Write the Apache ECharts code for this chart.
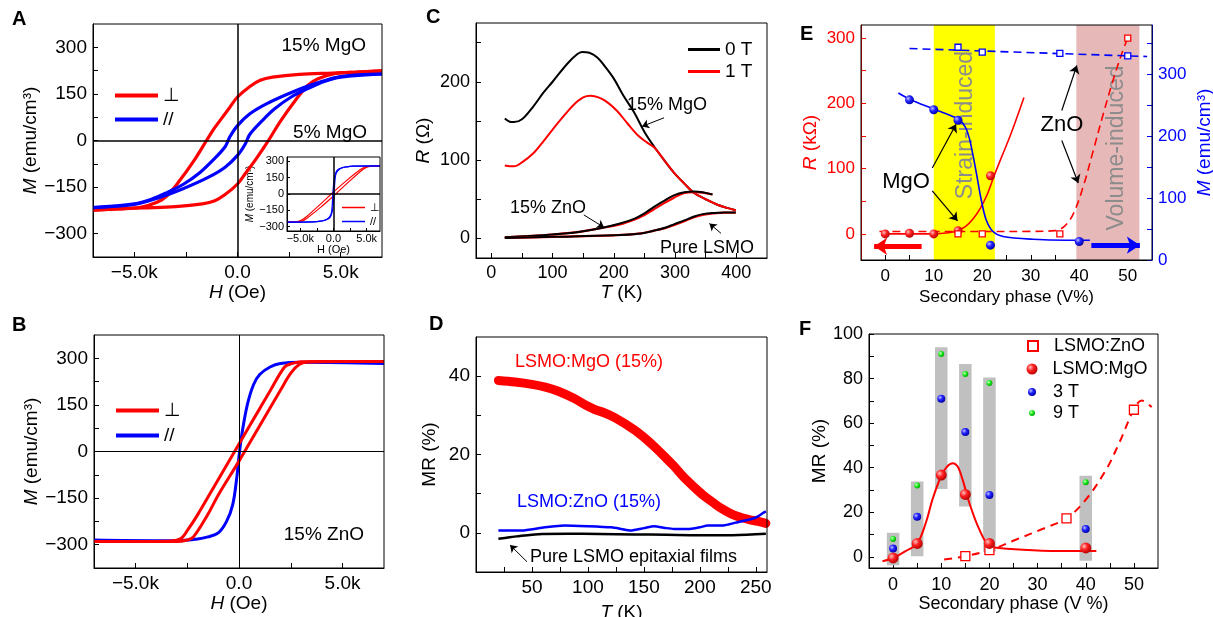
<!DOCTYPE html>
<html>
<head>
<meta charset="utf-8">
<script src="https://cdn.jsdelivr.net/npm/echarts@6/dist/echarts.min.js"></script>
<style>
  html, body { margin: 0; background: #fff; }
  #chart { width: 1213px; height: 617px; }
</style>
</head>
<body>
<div id="chart"></div>
<script>
const FONT = 'Liberation Sans, Arial, DejaVu Sans, sans-serif'

// ---------- A: 15% MgO, M-H loops [H (Oe), M (emu/cm3)]
const aPerpDown = [[7000,224],[5800,220],[4600,217],[3000,213],[1700,204],[1100,194],[600,174],[0,140],[-370,107],[-850,64],[-1200,32],[-1500,0],[-2100,-64],[-2800,-129],[-3400,-177],[-3900,-199],[-4700,-215],[-5800,-220],[-7000,-224]]
const aPerpUp = [[-7000,-224],[-5800,-220],[-4600,-217],[-3000,-213],[-1700,-204],[-1100,-194],[-600,-174],[0,-140],[370,-107],[850,-64],[1200,-30],[1500,0],[2100,64],[2800,129],[3400,177],[3900,199],[4700,215],[5800,220],[7000,224]]
const aParDown = [[7000,214],[5000,206],[3800,184],[2700,157],[1400,118],[600,86],[0,48],[-370,12],[-600,-20],[-1200,-64],[-1800,-102],[-2600,-140],[-3400,-167],[-4200,-190],[-5000,-204],[-7000,-216]]
const aParUp = [[-7000,-216],[-5000,-206],[-3800,-184],[-2700,-157],[-1400,-118],[-600,-86],[0,-48],[370,-12],[600,20],[1200,64],[1800,102],[2600,140],[3400,167],[4200,190],[5000,204],[7000,214]]
// inset: 5% MgO
const inPerpDown = [[7000,258],[5500,256],[4800,250],[4000,222],[2000,125],[0,18],[-2000,-95],[-4000,-205],[-4800,-240],[-5500,-254],[-7000,-258]]
const inPerpUp = [[-7000,-258],[-5500,-256],[-4800,-250],[-4000,-222],[-2000,-125],[0,-18],[2000,95],[4000,205],[4800,240],[5500,254],[7000,258]]
const inParDown = [[7000,258],[3000,256],[2000,250],[1200,240],[500,215],[150,150],[0,80],[-100,0],[-200,-110],[-400,-190],[-1000,-232],[-2000,-250],[-3000,-256],[-7000,-258]]
const inParUp = [[-7000,-258],[-3000,-256],[-2000,-250],[-1200,-240],[-500,-215],[-150,-150],[0,-80],[100,0],[200,110],[400,190],[1000,232],[2000,250],[3000,256],[7000,258]]

// ---------- B: 15% ZnO
const bPerpDown = [[7000,290],[4000,290],[3000,289],[2500,282],[2200,272],[1500,195],[1000,138],[0,24],[-1000,-90],[-2000,-204],[-2500,-255],[-2800,-280],[-3300,-288],[-5000,-290],[-7000,-290]]
const bPerpUp = [[-7000,-290],[-5000,-290],[-3000,-290],[-2500,-285],[-2200,-275],[-1500,-202],[-1000,-140],[0,-31],[1000,83],[2000,197],[2500,252],[2900,280],[3300,288],[5000,290],[7000,290]]
const bPar = [[-7000,-285],[-4000,-287],[-3000,-287],[-2000,-282],[-1500,-275],[-1000,-262],[-600,-225],[-300,-170],[-100,-80],[0,-15],[150,60],[400,150],[700,215],[1000,248],[1500,272],[2000,283],[3000,287],[7000,283]]

// ---------- C: R-T [T (K), R (ohm)]
const cMgO0T = [[22,153],[30,149],[37,148.5],[50,152],[69,169],[85,186],[100,200],[124,223],[140,235],[148,238],[160,237],[173,231],[185,220],[200,204],[215,183],[233,161],[250,136],[266,117],[282,100],[298,84],[315,70],[331,58],[350,50],[369,43],[385,39],[399,36]]
const cMgO1T = [[22,93],[30,92],[37,92],[50,97],[69,109],[85,124],[100,139],[120,158],[135,171],[150,180],[162,182],[175,180],[189,174],[205,163],[222,147],[240,131],[255,122],[266,116],[282,100],[298,84],[315,70],[331,58],[350,50],[369,43],[385,39],[399,36]]
const cZnO0T = [[22,1.5],[60,3],[100,5],[140,8],[178,13],[210,19],[233,25],[250,32],[265,40],[282,48],[298,55],[315,59],[331,60],[345,59],[361,56]]
const cZnO1T = [[22,1.5],[60,3],[100,5],[140,8],[178,13],[210,18],[233,24],[250,30],[265,37],[282,45],[298,52],[315,58],[331,59],[345,58.5],[361,56]]
const cPure0T = [[22,0.5],[100,2],[200,4],[240,6],[266,10],[285,14],[298,18],[315,23],[331,28],[345,31],[364,32.5],[380,33],[399,33]]
const cPure1T = [[22,0.5],[100,2],[200,4],[240,6],[266,10],[285,13.5],[298,17],[315,22],[331,27],[345,30],[364,32],[380,33],[399,33]]

// ---------- D: MR-T [T (K), MR (%)]
const dMgO = [[20,38.9],[35,38.5],[50,37.9],[62,37.2],[73,36.2],[87,34.4],[100,32.3],[106,31.5],[115,30.6],[124,29.4],[141,26.4],[150,24.4],[159,22.1],[168,19.6],[177,17],[185,14.4],[194,11.9],[203,9.6],[212,7.7],[220,6.1],[229,4.7],[237,3.9],[244,3.4],[252,2.9],[259,2.4]]
const dZnO = [[20,0.6],[41,0.6],[59,1.3],[79,1.9],[100,1.7],[121,1.4],[130,1.0],[138,0.6],[150,1.2],[159,1.7],[170,1.2],[177,1.0],[191,1.0],[200,1.4],[207,1.9],[221,1.9],[232,2.6],[247,3.6],[252,4.2],[256,5.0],[259,5.5]]
const dPure = [[20,-1.5],[30,-1.1],[38,-0.85],[50,-0.5],[59,-0.3],[82,-0.25],[110,-0.3],[141,-0.4],[170,-0.5],[200,-0.6],[229,-0.6],[259,-0.25]]

// ---------- E: R and M vs secondary phase [V%, value]
const eMgO_R = [[0,0],[5,1],[10,0],[15,5],[21.7,89]]
const eZnO_R = [[15,0],[20,0],[36,0],[50,300]]
const eMgO_M = [[5,259],[10,243],[15,226],[21.7,24],[40,30]]
const eZnO_M = [[15,344],[20,336],[36,334],[50,330]]
const eFitMgO_R = [[0,0],[5,0],[10,0],[12,1],[14,3],[15,5],[16.5,11],[18,22],[19.5,38],[21,60],[22.5,90],[24,118],[26,155],[28.6,209]]
const eFitZnO_R = [[-1.2,3.6],[10,3.6],[20,3.6],[30,3.8],[35,5],[37,12],[38.8,31],[40.8,72],[42.9,128],[45,185],[47,236],[48.8,277],[50,300]]
const eFitMgO_M = [[2.7,270],[5,260],[10,244],[15,228],[16.5,215],[17.4,195],[18.2,165],[18.8,140],[19.8,97],[20.8,65],[22.2,46],[24.3,38],[30.5,33.5],[37.4,32],[42.2,32]]
const eFitZnO_M = [[5,342],[54,329]]
const eBands = [[10,22.6],[39.4,52.4]]

// ---------- F: MR vs secondary phase [V%, MR (%)]
const fRange = [[0,-3.8,10.8],[5,0.3,33.8],[10,30.4,94],[15,22.6,86.5],[20,2.3,80.5],[40,-1.7,36.4]]
const fMgO = [[0,-0.5],[5,6],[10,36.7],[15,28],[20,6],[40,4]]
const f3T = [[0,3.7],[5,18],[10,71],[15,56],[20,27.8],[40,12.5]]
const f9T = [[0,8],[5,32],[10,91],[15,82],[20,78],[40,33.5]]
const fZnO = [[15,0.3],[20,3],[36,17.3],[50,66]]
const fFitMgO = [[-2.2,-2],[0,-0.5],[2.6,2.6],[5,6],[6.8,15.3],[8.2,25.9],[10,36.4],[11.2,40.5],[12.4,42],[13.4,40.5],[14.4,34.9],[15.8,24.4],[17.9,12.3],[20,4.8],[22,4],[29,3],[36,2.6],[42.2,2.6]]
const fFitZnO = [[10.6,-1.2],[15,0.3],[20,3],[25.6,7.8],[31.1,12.6],[36,17.3],[40.1,25.9],[44.3,39.4],[47,51.4],[50,66.2],[51.6,70.2],[53.7,67.2]]

// ---------- tick values
const hLabels = [-5000, 0, 5000], hTicks = [-5000, -2500, 0, 2500, 5000]
const mLabels = [-300, -150, 0, 150, 300], mTicks = [-300, -225, -150, -75, 0, 75, 150, 225, 300]
const cTLabels = [0, 100, 200, 300, 400], cTTicks = [0, 50, 100, 150, 200, 250, 300, 350, 400]
const cRLabels = [0, 100, 200], cRTicks = [0, 50, 100, 150, 200, 250]
const dTLabels = [50, 100, 150, 200, 250], dTTicks = [25, 50, 75, 100, 125, 150, 175, 200, 225, 250]
const dMRLabels = [0, 20, 40], dMRTicks = [0, 10, 20, 30, 40]
const vLabels = [0, 10, 20, 30, 40, 50], vTicks = [0, 5, 10, 15, 20, 25, 30, 35, 40, 45, 50]
const eRLabels = [0, 100, 200, 300], eRTicks = [0, 50, 100, 150, 200, 250, 300]
const eMLabels = [0, 100, 200, 300], eMTicks = [0, 50, 100, 150, 200, 250, 300, 350]
const fMRLabels = [0, 20, 40, 60, 80, 100], fMRTicks = [0, 10, 20, 30, 40, 50, 60, 70, 80, 90, 100]

// annotation arrows, data coords [from, to]
const cArrows = [[[282,154],[246,143]], [[151,30],[184,14]], [[375,6.4],[356,19]]]
const dArrows = [[[45.6,-7.4],[30.4,-3.1]]]
const eBlackArrows = [[[9.7,101],[14.6,168]], [[9.7,66],[14.9,20]], [[36.4,189],[39.5,258]], [[36.4,143],[39.8,78]]]
const eRedArrow = [[[7.5,-19],[-2.3,-19]]]
const eBlueArrow = [[[42.5,24],[52.5,24]]]

const RED = '#ff0000', BLUE = '#0000ff'
const minus = v => String(v).replace('-', '\u2212')
const kFmt = v => v === 0 ? '0.0' : minus((v / 1000).toFixed(1)) + 'k'

function axis(grid, min, max, labels, ticks, o) {
  o = o || {}
  const color = o.color || '#000'
  const ns = o.nameSize || 19
  return {
    type: 'value', gridIndex: grid, min, max, position: o.position,
    name: o.name, nameLocation: 'middle', nameGap: o.nameGap,
    nameTextStyle: { fontSize: ns, color, fontFamily: FONT,
      rich: { i: { fontStyle: 'italic', fontSize: ns, color, fontFamily: FONT } } },
    axisLine: { show: true, onZero: false, lineStyle: { color, width: 1 } },
    axisTick: { show: true, inside: true, length: o.tickLen || 5, customValues: ticks, lineStyle: { color } },
    axisLabel: { customValues: labels, fontSize: o.fontSize || 18, color, fontFamily: FONT,
      margin: o.margin || 6, formatter: o.fmt || (v => minus(v)) },
    splitLine: { show: false }
  }
}

function line(name, data, xi, yi, color, width, o) {
  o = o || {}
  return {
    type: 'line', name, data, xAxisIndex: xi, yAxisIndex: yi,
    symbol: 'none', showSymbol: false, smooth: o.smooth === undefined ? 0.35 : o.smooth,
    lineStyle: { color, width, type: o.dash || 'solid', cap: o.cap || 'butt' },
    itemStyle: { color }, z: 3, markLine: o.markLine
  }
}

const ball = (hi, mid, lo) => ({ type: 'radial', x: 0.35, y: 0.35, r: 0.7,
  colorStops: [{ offset: 0, color: hi }, { offset: 0.45, color: mid }, { offset: 1, color: lo }] })

function dots(name, data, xi, yi, size, fill, o) {
  o = o || {}
  return {
    type: 'scatter', name, data, xAxisIndex: xi, yAxisIndex: yi,
    symbol: o.symbol || 'circle', symbolSize: size, z: 4,
    itemStyle: { color: fill, borderColor: o.border || 'transparent', borderWidth: o.border ? 1.3 : 0, opacity: 1 }
  }
}

function zeroLines(width) {
  return { silent: true, symbol: 'none', label: { show: false },
    lineStyle: { color: '#000', width, type: 'solid' }, data: [{ yAxis: 0 }, { xAxis: 0 }] }
}

function arrows(list, color, width, size) {
  return { silent: true, symbol: ['none', 'arrow'], symbolSize: size, label: { show: false },
    lineStyle: { color, width, type: 'solid' },
    data: list.map(a => [{ coord: a[0] }, { coord: a[1] }]) }
}

function txt(str, x, y, size, o) {
  o = o || {}
  return { type: 'text', x, y, z: o.z || 10, rotation: o.rot || 0,
    style: { text: str, fill: o.color || '#000', fontSize: size, fontFamily: FONT,
      fontWeight: o.weight || 'normal', align: o.align || 'left', verticalAlign: 'middle' } }
}

// line legends drawn as plain bars; symbol legends keep their marker
function legend(left, top, names, o) {
  return { left, top, orient: 'vertical', padding: 0, selectedMode: false,
    icon: o.icon, itemWidth: o.w, itemHeight: o.h, itemGap: o.gap || 0, data: names,
    textStyle: { fontSize: o.fs, color: '#000', fontFamily: FONT, padding: [0, 0, 0, o.pad || 0] } }
}

const chart = echarts.init(document.getElementById('chart'))

const grids = [
  { left: 93, top: 24, width: 289, height: 233 },   // A
  { left: 287, top: 157, width: 93, height: 74 },   // A inset
  { left: 94, top: 335, width: 290, height: 233 },  // B
  { left: 476, top: 23, width: 291, height: 235 },  // C
  { left: 476, top: 337, width: 291, height: 235 }, // D
  { left: 861, top: 25, width: 291, height: 235 },  // E
  { left: 869, top: 334, width: 289, height: 234 }  // F
].map(g => Object.assign(g, { show: true, borderColor: '#000', borderWidth: 1, backgroundColor: 'transparent',
  z: 4, containLabel: false, outerBoundsMode: 'none' }))

const option = {
  animation: false,
  backgroundColor: '#fff',
  textStyle: { fontFamily: FONT },
  grid: grids,
  xAxis: [
    axis(0, -7000, 7000, hLabels, hTicks, { name: '{i|H} (Oe)', nameGap: 18, fontSize: 19, fmt: kFmt }),
    axis(1, -7000, 7000, hLabels, hTicks, { name: 'H (Oe)', nameGap: 12, nameSize: 11, fontSize: 11, margin: 2, tickLen: 3, fmt: kFmt }),
    axis(2, -7000, 7000, hLabels, hTicks, { name: '{i|H} (Oe)', nameGap: 25, fontSize: 19, fmt: kFmt }),
    axis(3, -25, 450, cTLabels, cTTicks, { name: '{i|T} (K)', nameGap: 25 }),
    axis(4, 0, 260, dTLabels, dTTicks, { name: '{i|T} (K)', nameGap: 31, fontSize: 19 }),
    axis(5, -5, 55, vLabels, vTicks, { name: 'Secondary phase (V%)', nameGap: 29, nameSize: 17, fontSize: 17, margin: 8 }),
    axis(6, -5, 55, vLabels, vTicks, { name: 'Secondary phase (V %)', nameGap: 26, nameSize: 18, margin: 8 })
  ],
  yAxis: [
    axis(0, -375, 375, mLabels, mTicks, { name: '{i|M} (emu/cm³)', nameGap: 52, fontSize: 19 }),
    axis(1, -340, 340, mLabels, mLabels, { name: '{i|M} (emu/cm³)', nameGap: 25, nameSize: 10, fontSize: 11, margin: 3, tickLen: 3 }),
    axis(2, -375, 375, mLabels, mTicks, { name: '{i|M} (emu/cm³)', nameGap: 53, fontSize: 19 }),
    axis(3, -25, 275, cRLabels, cRTicks, { name: '{i|R} (Ω)', nameGap: 43 }),
    axis(4, -10, 50, dMRLabels, dMRTicks, { name: 'MR (%)', nameGap: 37, fontSize: 19 }),
    axis(5, -40, 320, eRLabels, eRTicks, { color: RED, name: '{i|R} (kΩ)', nameGap: 41, fontSize: 17 }),
    axis(5, 0, 380, eMLabels, eMTicks, { color: BLUE, position: 'right', name: '{i|M} (emu/cm³)', nameGap: 43, fontSize: 17 }),
    axis(6, -5, 100, fMRLabels, fMRTicks, { name: 'MR (%)', nameGap: 36 })
  ],
  legend: [
    legend(115, 86, ['⊥', '//'], { icon: 'rect', w: 43, h: 4, gap: 5, fs: 19 }),
    legend(116, 401, ['⊥', '//'], { icon: 'rect', w: 43, h: 4, gap: 6, fs: 19 }),
    legend(342, 202, ['⊥ ', '// '], { icon: 'rect', w: 23, h: 1.5, gap: 3, fs: 11 }),
    legend(688, 40, ['0 T', '1 T'], { icon: 'rect', w: 32, h: 3, gap: 3, fs: 19 }),
    legend(1027, 337, ['LSMO:ZnO'], { w: 10, h: 10, fs: 18, pad: 11 }),
    legend(1026.5, 360, ['LSMO:MgO'], { w: 11, h: 11, fs: 18, pad: 10 }),
    legend(1028, 383, ['3 T'], { w: 8, h: 8, fs: 18, pad: 12 }),
    legend(1029, 404, ['9 T'], { w: 6, h: 6, fs: 18, pad: 13 })
  ],
  graphic: [
    txt('A', 12, 19, 20, { weight: 'bold' }),
    txt('B', 12, 325, 20, { weight: 'bold' }),
    txt('C', 426, 17, 20, { weight: 'bold' }),
    txt('D', 429, 324, 20, { weight: 'bold' }),
    txt('E', 800, 34, 20, { weight: 'bold' }),
    txt('F', 799, 329, 20, { weight: 'bold' }),
    txt('15% MgO', 366, 46, 19, { align: 'right' }),
    txt('5% MgO', 367, 133, 19, { align: 'right' }),
    txt('15% ZnO', 364, 535, 19, { align: 'right' }),
    txt('15% MgO', 627, 105, 18),
    txt('15% ZnO', 510, 208, 18),
    txt('Pure LSMO', 660, 248, 18),
    txt('LSMO:MgO (15%)', 515, 362, 18, { color: RED }),
    txt('LSMO:ZnO (15%)', 517, 502, 18, { color: BLUE }),
    txt('Pure LSMO epitaxial films', 530, 557, 18),
    txt('MgO', 906, 182, 22, { align: 'center' }),
    txt('ZnO', 1062, 125, 22, { align: 'center' }),
    txt('Strain-induced', 966, 125, 23, { align: 'center', rot: Math.PI / 2, color: '#8c8c8c', z: 2 }),
    txt('Volume-induced', 1117, 148, 23, { align: 'center', rot: Math.PI / 2, color: '#8c8c8c', z: 2 })
  ],
  series: [
    // A
    line('⊥', aPerpDown, 0, 0, RED, 3.2, { markLine: zeroLines(1.5) }),
    line('⊥', aPerpUp, 0, 0, RED, 3.2),
    line('//', aParDown, 0, 0, BLUE, 3.2),
    line('//', aParUp, 0, 0, BLUE, 3.2),
    // A inset
    line('⊥ ', inPerpDown, 1, 1, RED, 1.2, { markLine: zeroLines(1.5) }),
    line('⊥ ', inPerpUp, 1, 1, RED, 1.2),
    line('// ', inParDown, 1, 1, BLUE, 1.2),
    line('// ', inParUp, 1, 1, BLUE, 1.2),
    // B
    line('//', bPar, 2, 2, BLUE, 3, { markLine: zeroLines(1) }),
    line('⊥', bPerpDown, 2, 2, RED, 3),
    line('⊥', bPerpUp, 2, 2, RED, 3),
    // C
    line('0 T', cMgO0T, 3, 3, '#000', 2, { markLine: arrows(cArrows, '#000', 1, 7) }),
    line('1 T', cMgO1T, 3, 3, RED, 2),
    line('1 T', cZnO1T, 3, 3, RED, 2.2),
    line('0 T', cZnO0T, 3, 3, '#000', 2),
    line('1 T', cPure1T, 3, 3, RED, 2.2),
    line('0 T', cPure0T, 3, 3, '#000', 2),
    // D
    line('mgo-d', dMgO, 4, 4, RED, 9, { cap: 'round' }),
    line('pure-d', dPure, 4, 4, '#000', 2.5, { markLine: arrows(dArrows, '#000', 1, 7) }),
    line('zno-d', dZnO, 4, 4, BLUE, 2.5, { smooth: 0.2 }),
    // E
    {
      type: 'custom', name: 'bands', xAxisIndex: 5, yAxisIndex: 5, z: 1, silent: true,
      data: eBands, encode: { x: [0, 1] },
      renderItem(params, api) {
        const cs = params.coordSys
        const x0 = api.coord([api.value(0), 0])[0]
        const x1 = api.coord([api.value(1), 0])[0]
        return { type: 'rect', shape: { x: x0, y: cs.y, width: x1 - x0, height: cs.height },
          style: { fill: ['#ffff00', '#e6b8b8'][params.dataIndex] } }
      }
    },
    line('fitR-mgo', eFitMgO_R, 5, 5, RED, 1.6, { markLine: arrows(eRedArrow, RED, 5, 13) }),
    line('fitR-zno', eFitZnO_R, 5, 5, RED, 1.6, { dash: [8, 5], markLine: arrows(eBlackArrows, '#000', 1.2, 8) }),
    line('fitM-mgo', eFitMgO_M, 5, 6, BLUE, 1.6, { smooth: 0.3, markLine: arrows(eBlueArrow, BLUE, 5, 13) }),
    line('fitM-zno', eFitZnO_M, 5, 6, BLUE, 1.6, { dash: [8, 5], smooth: 0 }),
    dots('R-mgo', eMgO_R, 5, 5, 9, ball('#ffc0c0', '#ff2020', '#b00000')),
    dots('R-zno', eZnO_R, 5, 5, 6, '#fff', { symbol: 'rect', border: RED }),
    dots('M-mgo', eMgO_M, 5, 6, 9, ball('#c0c0ff', '#2020ff', '#0000a0')),
    dots('M-zno', eZnO_M, 5, 6, 6, '#fff', { symbol: 'rect', border: BLUE }),
    // F
    {
      type: 'custom', name: 'range', xAxisIndex: 6, yAxisIndex: 7, z: 1, silent: true,
      data: fRange, encode: { x: 0, y: [1, 2] },
      renderItem(params, api) {
        const top = api.coord([api.value(0), api.value(2)])
        const bot = api.coord([api.value(0), api.value(1)])
        const w = api.size([2.6, 0])[0]
        return { type: 'rect', shape: { x: top[0] - w / 2, y: top[1], width: w, height: bot[1] - top[1] },
          style: { fill: '#c0c0c0' } }
      }
    },
    line('fit-mgo-f', fFitMgO, 6, 7, RED, 2),
    line('fit-zno-f', fFitZnO, 6, 7, RED, 2, { dash: [8, 6] }),
    dots('LSMO:ZnO', fZnO, 6, 7, 9, '#fff', { symbol: 'rect', border: RED }),
    dots('LSMO:MgO', fMgO, 6, 7, 11, ball('#ffc0c0', '#ff2020', '#b00000')),
    dots('3 T', f3T, 6, 7, 8, ball('#c0c0ff', '#2020ff', '#0000a0')),
    dots('9 T', f9T, 6, 7, 6, ball('#d0ffd0', '#20f020', '#00a000'))
  ]
}

chart.setOption(option)
</script>
</body>
</html>
